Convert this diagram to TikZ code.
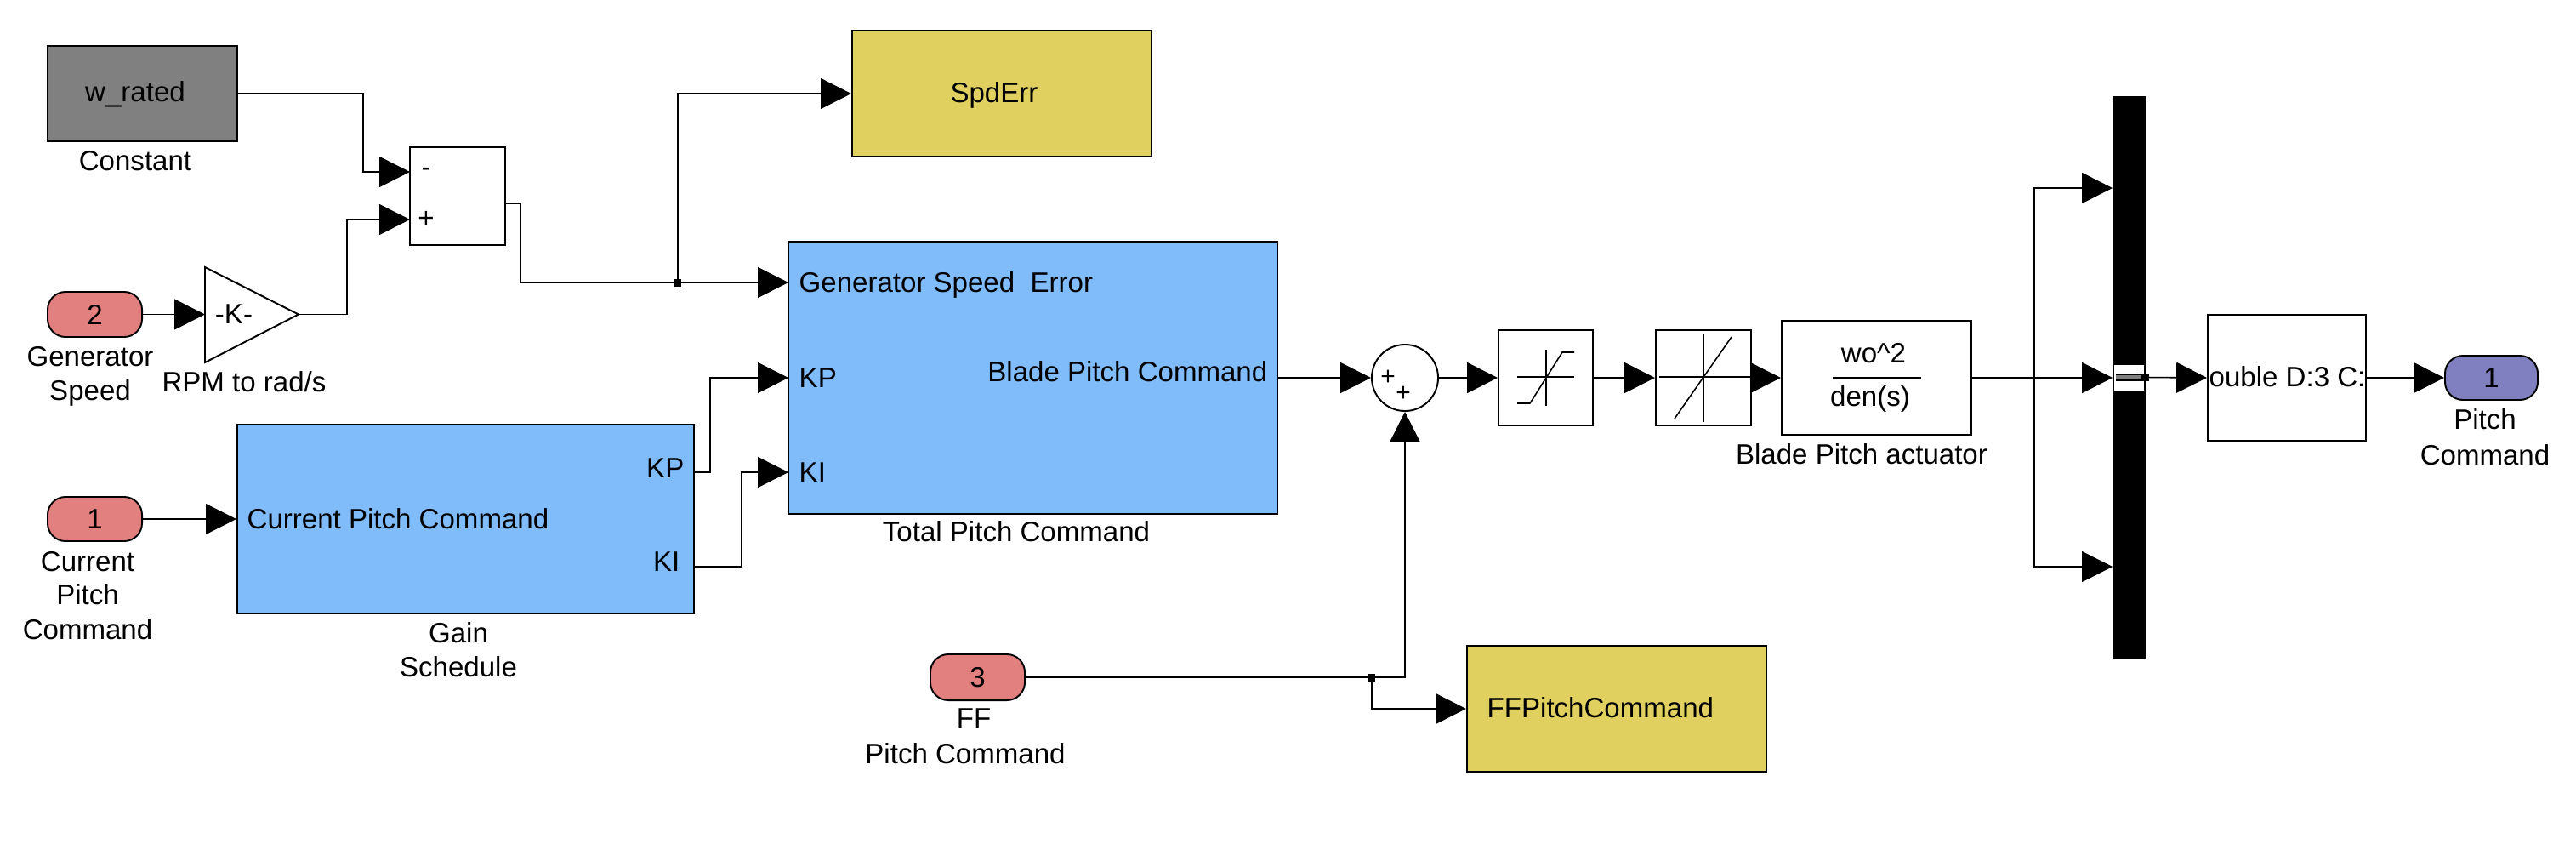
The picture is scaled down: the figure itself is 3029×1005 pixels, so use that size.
\documentclass[tikz,border=0pt]{standalone}
\usepackage{fontspec}
\setmainfont{Liberation Sans}
\usetikzlibrary{arrows.meta}
\definecolor{inred}{RGB}{226,128,128}
\definecolor{outpur}{RGB}{128,128,192}
\definecolor{sblue}{RGB}{128,187,250}
\definecolor{syel}{RGB}{224,208,96}
\definecolor{cgray}{RGB}{128,128,128}
\begin{document}
\begin{tikzpicture}[x=0.01cm,y=-0.01cm,
  font=\fontsize{9.4}{11.4}\selectfont,
  blk/.style={draw, line width=0.55pt, inner sep=0pt, anchor=center},
  port/.style={blk, rounded corners=6pt},
  sig/.style={line width=0.45pt, -{Triangle[length=10.2pt,width=10.2pt]}},
  wire/.style={line width=0.45pt},
  lab/.style={inner sep=0pt, anchor=base},
  jdot/.style={fill=black, inner sep=0pt, minimum width=0.08cm, minimum height=0.09cm}]
\fill[white] (0,0) rectangle (3029,1005);
\useasboundingbox (0,0) rectangle (3029,1005);

% ---- blocks ----
\node[blk, fill=cgray, minimum width=2.23cm, minimum height=1.12cm] (cst) at (167.5,110) {};
\node[blk, minimum width=1.12cm, minimum height=1.15cm] (sum) at (538,230.5) {};
\node[port, fill=inred, minimum width=1.11cm, minimum height=0.53cm] (ip2) at (111.5,369.5) {};
\draw[line width=0.55pt] (241,314) -- (351,369.5) -- (241,426) -- cycle;
\coordinate (gainin) at (241,369.5);
\coordinate (gainout) at (351,369.5);
\node[blk, fill=sblue, minimum width=5.37cm, minimum height=2.22cm] (gs) at (547.5,610) {};
\node[port, fill=inred, minimum width=1.11cm, minimum height=0.52cm] (ip1) at (111.5,610) {};
\node[blk, fill=sblue, minimum width=5.75cm, minimum height=3.19cm] (tot) at (1214.5,444) {};
\node[blk, fill=syel, minimum width=3.52cm, minimum height=1.48cm] (spd) at (1178,110) {};
\node[blk, circle, minimum size=0.78cm] (sumc) at (1652,444) {};
\node[blk, minimum width=1.11cm, minimum height=1.12cm] (sat) at (1817.5,444) {};
\node[blk, minimum width=1.12cm, minimum height=1.12cm] (dz) at (2003,444) {};
\node[blk, minimum width=2.23cm, minimum height=1.34cm] (tf) at (2206.5,444) {};
\node[fill=black, inner sep=0pt, minimum width=0.39cm, minimum height=6.61cm, anchor=center] (bar) at (2503.5,443.5) {};
\node[blk, minimum width=1.86cm, minimum height=1.48cm] (dbl) at (2689,444) {};
\node[port, fill=outpur, minimum width=1.09cm, minimum height=0.52cm] (outp) at (2929.5,444) {};
\node[port, fill=inred, minimum width=1.11cm, minimum height=0.54cm] (ip3) at (1149.5,796) {};
\node[blk, fill=syel, minimum width=3.52cm, minimum height=1.48cm] (ff) at (1901,833) {};

% ---- port coordinates ----
\coordinate (sumin1) at (482,202);
\coordinate (sumin2) at (482,258);
\coordinate (sumout) at (594,239);
\coordinate (totin1) at (927,332);
\coordinate (totin2) at (927,444);
\coordinate (totin3) at (927,555);
\coordinate (gskp) at (816,555);
\coordinate (gski) at (816,666);
\coordinate (br) at (2392,444);
\coordinate (barin1) at (2484,221);
\coordinate (barin2) at (2484,444);
\coordinate (barin3) at (2484,666);
\coordinate (jn1) at (797,332);
\coordinate (jn2) at (1613,796);

% ---- block icons ----
\draw[wire] (1784,443) -- (1851,443);
\draw[wire] (1818,411) -- (1818,477);
\draw[wire] (1784,474) -- (1799,474) -- (1837,414) -- (1851,414);
\draw[wire] (1951,443) -- (2059,443);
\draw[wire] (2003,392) -- (2003,496);
\draw[wire] (1969,492) -- (2036,396);
\draw[wire] (2155,444) -- (2259,444);

% ---- connectors ----
\draw[sig] (cst.east) -- ++(147,0) |- (sumin1);
\draw[sig] (ip2.east) -- (gainin);
\draw[sig] (gainout) -- ++(57,0) |- (sumin2);
\draw[sig] (sumout) -- ++(18,0) |- (totin1);
\draw[sig] (jn1) |- (spd.west);
\draw[sig] (gskp) -- ++(19,0) |- (totin2);
\draw[sig] (gski) -- ++(56,0) |- (totin3);
\draw[sig] (ip1.east) -- (gs.west);
\draw[sig] (tot.east) -- (sumc.west);
\draw[sig] (sumc.east) -- (sat.west);
\draw[sig] (sat.east) -- (dz.west);
\draw[sig] (dz.east) -- (tf.west);
\draw[wire] (tf.east) -- (br);
\draw[sig] (br) -- (barin2);
\draw[sig] (br) |- (barin1);
\draw[sig] (br) |- (barin3);
\draw[sig] (bar.east) -- (dbl.west);
\draw[sig] (dbl.east) -- (outp.west);
\draw[sig] (ip3.east) -| (sumc.south);
\draw[sig] (jn2) |- (ff.west);
\node[jdot] (dot1) at (jn1) {};
\node[jdot] (dot2) at (jn2) {};

% ---- bar port indicator ----
\fill[white] (2486,429) rectangle (2521,459);
\fill[gray] (2488,440) rectangle (2518,447);
\draw[line width=0.3pt] (2488,440) -- (2518,440) (2488,447) -- (2518,447);
\fill[black] (2518,440) rectangle (2527,448);

% ---- texts ----
\node[lab] (tcst) at (159,119) {w\_rated};
\node[lab] (lcst) at (159,200) {Constant};
\node (tsm1) at (501,202) {-};
\node (tsm2) at (501,258) {+};
\node (tip2) at (111.5,369.5) {2};
\node[lab] (lip2a) at (106,430) {Generator};
\node[lab] (lip2b) at (106,470) {Speed};
\node[lab] (tgain) at (275,380) {-K-};
\node[lab] (lgain) at (287,460) {RPM to rad/s};
\node (tip1) at (111.5,610) {1};
\node[lab] (lip1a) at (103,671) {Current};
\node[lab] (lip1b) at (103,710) {Pitch};
\node[lab] (lip1c) at (103,751) {Command};
\node[lab, anchor=base west] (tgs) at (290,621) {Current Pitch Command};
\node[lab, anchor=base east] (tgskp) at (805,561) {KP};
\node[lab, anchor=base east] (tgski) at (800,671) {KI};
\node[lab] (lgsa) at (539,755) {Gain};
\node[lab] (lgsb) at (539,795) {Schedule};
\node[lab, anchor=base west] (ttot1) at (939,343) {Generator Speed\ \ Error};
\node[lab, anchor=base west] (ttot2) at (939,455) {KP};
\node[lab, anchor=base west] (ttot3) at (939,566) {KI};
\node[lab, anchor=base east] (ttot4) at (1491,448) {Blade Pitch Command};
\node[lab] (ltot) at (1195,636) {Total Pitch Command};
\node[lab] (tspd) at (1169,120) {SpdErr};
\node[font=\fontsize{8.5}{9}\selectfont] (tsc1) at (1632,444) {+};
\node[font=\fontsize{8.5}{9}\selectfont] (tsc2) at (1650,463) {+};
\node[lab] (ttf1) at (2203,426) {wo\textasciicircum 2};
\node[lab] (ttf2) at (2199,477) {den(s)};
\node[lab] (ltf) at (2189,545) {Blade Pitch actuator};
\node[lab, anchor=base west] (tdbl) at (2597,454) {ouble D:3 C:};
\node (top) at (2929.5,444) {1};
\node[lab] (lopa) at (2922,504) {Pitch};
\node[lab] (lopb) at (2922,546) {Command};
\node (tip3) at (1149.5,796) {3};
\node[lab] (lip3a) at (1145,855) {FF};
\node[lab] (lip3b) at (1135,897) {Pitch Command};
\node[lab, anchor=base west] (tff) at (1748,843) {FFPitchCommand};
\end{tikzpicture}
\end{document}
